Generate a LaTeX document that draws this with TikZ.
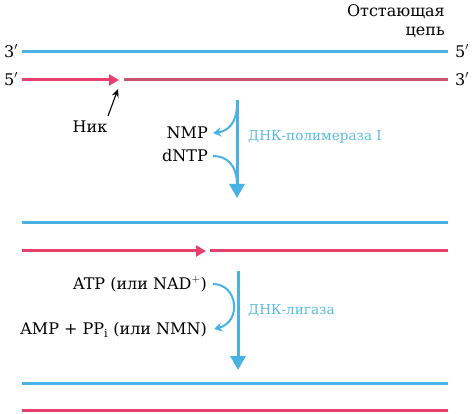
\documentclass[tikz,border=0pt]{standalone}
\usepackage{fontspec}
\setmainfont{DejaVu Serif}
\usetikzlibrary{arrows.meta}
\definecolor{strandblue}{RGB}{72,178,228}
\definecolor{strandpink}{RGB}{232,64,110}
\definecolor{strandmauve}{RGB}{200,84,108}
\definecolor{labelblue}{RGB}{90,185,230}
\tikzset{
  strand/.style={line width=3pt},
  endlabel/.style={font=\fontsize{16}{18}\selectfont, inner sep=0pt},
  chem/.style={font=\fontsize{16}{19}\selectfont, inner sep=0pt},
  enzyme/.style={font=\fontsize{13.6}{16}\selectfont, text=labelblue, inner sep=0pt, anchor=west},
  mainarrow/.style={strandblue, line width=3pt, -{Triangle[width=15pt,length=14pt]}},
  sidearrow/.style={strandblue, line width=2pt, -{Stealth[width=9pt,length=8pt]}},
  sideline/.style={strandblue, line width=2pt},
}
\begin{document}
\begin{tikzpicture}[x=1pt,y=-1pt]
\useasboundingbox (0,0) rectangle (474,414);
% first duplex
\node[chem, anchor=east] (lag1) at (445,12) {Отстающая};
\node[chem, anchor=east] (lag2) at (445,32) {цепь};
\coordinate (b1l) at (22,52); \coordinate (b1r) at (448,52);
\coordinate (r1l) at (22,80); \coordinate (r1m) at (119,80);
\coordinate (r1n) at (124,80); \coordinate (r1r) at (448,80);
\node[endlabel] (t1l) at (11,51) {3$'$};
\node[endlabel] (t1r) at (462,51) {5$'$};
\node[endlabel] (t2l) at (11,79) {5$'$};
\node[endlabel] (t2r) at (462,79) {3$'$};
\draw[strand, strandblue] (b1l) -- (b1r);
\draw[strand, strandpink, -{Triangle[width=11pt,length=10pt]}] (r1l) -- (r1m);
\draw[strand, strandmauve] (r1n) -- (r1r);
\node[chem] (nick) at (90,127) {Ник};
\coordinate (nicktip) at (118,89);
\draw[line width=1.1pt, -{Stealth[width=7pt,length=8pt]}] (108,116) -- (nicktip);
% polymerase step
\coordinate (p1) at (237,100); \coordinate (p2) at (237,198);
\draw[mainarrow] (p1) -- (p2);
\node[chem, anchor=east] (nmp) at (208,133) {NMP};
\node[chem, anchor=east] (dntp) at (208,156) {dNTP};
\draw[sidearrow] (237,107) .. controls (236,122) and (229,131) .. ([xshift=5pt]nmp.east);
\draw[sideline] (dntp.east) ++(5,0) .. controls (228,156) and (236,166) .. (237,182);
\node[enzyme] (pol) at (248,137) {ДНК-полимераза I};
% second duplex
\coordinate (b2l) at (22,223); \coordinate (b2r) at (448,223);
\coordinate (r2l) at (22,251); \coordinate (r2m) at (206,251);
\coordinate (r2n) at (210,251); \coordinate (r2r) at (448,251);
\draw[strand, strandblue] (b2l) -- (b2r);
\draw[strand, strandpink, -{Triangle[width=11pt,length=10pt]}] (r2l) -- (r2m);
\draw[strand, strandpink] (r2n) -- (r2r);
% ligase step
\coordinate (l1) at (238,271); \coordinate (l2) at (238,370);
\draw[mainarrow] (l1) -- (l2);
\node[chem, anchor=east] (atp) at (207,284) {ATP (или NAD$^{+}$)};
\node[chem, anchor=east] (amp) at (207,330) {AMP + PP$_{\mathrm{i}}$ (или NMN)};
\draw[sidearrow] (213,284) .. controls (238,284) and (242,322) .. (214,329);
\node[enzyme] (lig) at (248,311) {ДНК-лигаза};
% third duplex
\coordinate (b3l) at (22,383); \coordinate (b3r) at (448,383);
\coordinate (r3l) at (22,410); \coordinate (r3r) at (448,410);
\draw[strand, strandblue] (b3l) -- (b3r);
\draw[strand, strandpink] (r3l) -- (r3r);
\end{tikzpicture}
\end{document}
